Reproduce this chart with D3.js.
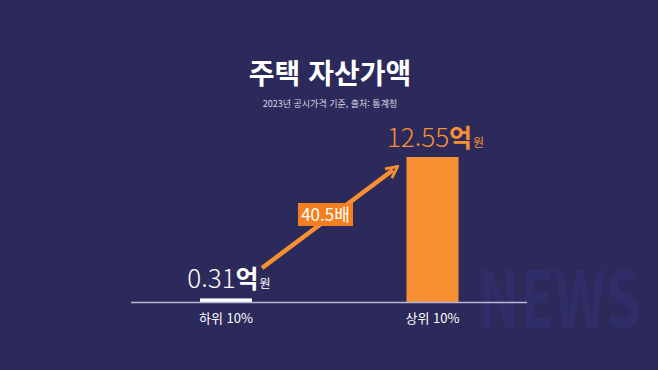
<!DOCTYPE html>
<html lang="ko">
<head>
<meta charset="utf-8">
<style>
  body { margin: 0; padding: 0; background: #2c2a5a; }
  svg { display: block; }
  text { font-family: "Noto Sans CJK KR", "Noto Sans", sans-serif; }
</style>
</head>
<body>
<svg id="chart" width="658" height="370"></svg>
<script src="https://d3js.org/d3.v7.min.js"></script>
<script>
const categories = ['하위 10%', '상위 10%'];
const values = [0.31, 12.55];
const valueLabels = ['0.31', '12.55'];
const ratioLabel = '40.5배';

const width = 658, height = 370;
const baseY = 302;
const barW = 52;

const svg = d3.select('#chart');

svg.append('rect').attr('width', width).attr('height', height).attr('fill', '#2c2a5a');

// faint watermark
svg.append('text')
  .attr('transform', 'translate(478,328) scale(1,1.4)')
  .attr('font-size', 56).attr('font-weight', 700)
  .attr('fill', '#3a3888').attr('opacity', 0.3)
  .text('NEWS');

svg.append('text')
  .attr('x', 330).attr('y', 84)
  .attr('text-anchor', 'middle')
  .attr('font-size', 28).attr('font-weight', 700)
  .attr('fill', '#ffffff')
  .text('주택 자산가액');

svg.append('text')
  .attr('x', 330).attr('y', 107)
  .attr('text-anchor', 'middle')
  .attr('font-size', 9)
  .attr('fill', '#d8d8e6')
  .text('2023년 공시가격 기준, 출처: 통계청');

const x = d3.scalePoint().domain(categories).range([226, 432.5]);
const y = d3.scaleLinear().domain([0, 12.55]).range([baseY, 157]);

const colors = ['#ffffff', '#f78f33'];

svg.selectAll('rect.bar')
  .data(values)
  .join('rect')
  .attr('class', 'bar')
  .attr('x', (d, i) => x(categories[i]) - barW / 2)
  .attr('y', d => y(d))
  .attr('width', barW)
  .attr('height', d => baseY - y(d))
  .attr('fill', (d, i) => colors[i]);

// baseline
svg.append('line')
  .attr('x1', 131).attr('x2', 527)
  .attr('y1', baseY + 0.5).attr('y2', baseY + 0.5)
  .attr('stroke', '#b9b7d8').attr('stroke-width', 1.5);

// category labels
svg.selectAll('text.cat')
  .data(categories)
  .join('text')
  .attr('class', 'cat')
  .attr('x', d => x(d))
  .attr('y', 323)
  .attr('text-anchor', 'middle')
  .attr('font-size', 13)
  .attr('fill', '#ffffff')
  .text(d => d);

// value labels
const vl = svg.selectAll('text.val')
  .data(values)
  .join('text')
  .attr('class', 'val')
  .attr('x', (d, i) => x(categories[i]) + 3)
  .attr('y', d => y(d) - 10)
  .attr('text-anchor', 'middle')
  .attr('fill', (d, i) => i === 0 ? '#ffffff' : '#f78f33');
vl.append('tspan').attr('font-size', 26).attr('font-weight', 300).text((d, i) => valueLabels[i]);
vl.append('tspan').attr('font-size', 25).attr('font-weight', 700).text('억');
vl.append('tspan').attr('font-size', 12).attr('dx', 1).text('원');

// arrow
const defs = svg.append('defs');
defs.append('marker')
  .attr('id', 'head')
  .attr('viewBox', '0 0 10 10')
  .attr('refX', 5).attr('refY', 5)
  .attr('markerWidth', 3.2).attr('markerHeight', 3.2)
  .attr('orient', 'auto')
  .append('path')
  .attr('d', 'M1,1 L9,5 L1,9')
  .attr('fill', 'none')
  .attr('stroke', '#f78f33')
  .attr('stroke-width', 2)
  .attr('stroke-linejoin', 'miter');

svg.append('line')
  .attr('x1', 262).attr('y1', 268)
  .attr('x2', 393).attr('y2', 170)
  .attr('stroke', '#f78f33').attr('stroke-width', 4.5)
  .attr('marker-end', 'url(#head)');

svg.append('rect')
  .attr('x', 298).attr('y', 203)
  .attr('width', 55).attr('height', 23)
  .attr('fill', '#f47f20');

svg.append('text')
  .attr('x', 325.5).attr('y', 221)
  .attr('text-anchor', 'middle')
  .attr('font-size', 17)
  .attr('fill', '#ffffff')
  .text(ratioLabel);
</script>
</body>
</html>
